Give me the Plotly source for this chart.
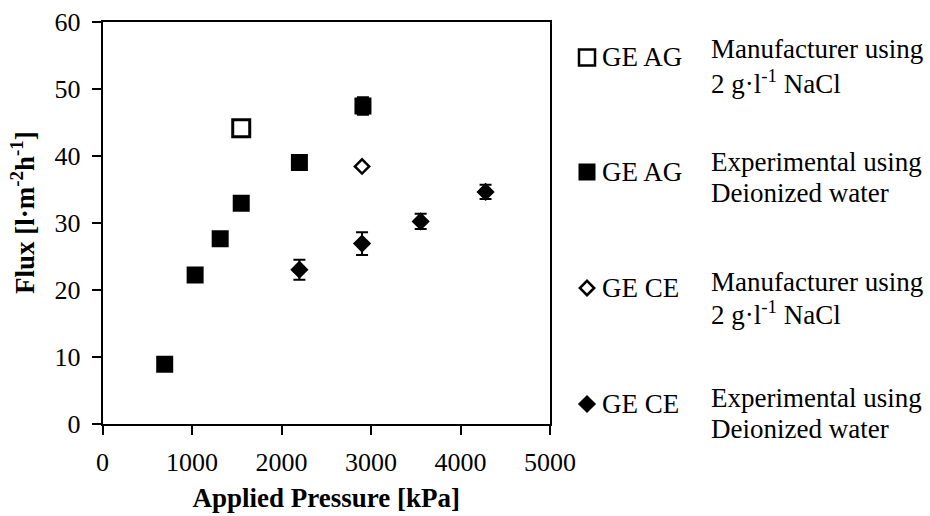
import plotly.graph_objects as go

# ---- data ----
ag_man_x = [1550]
ag_man_y = [44.1]

ag_exp_x = [695, 1035, 1315, 1550, 2200, 2910]
ag_exp_y = [8.9, 22.2, 27.6, 32.9, 39.0, 47.4]
ag_exp_err = [0, 0, 0, 0, 0, 1.3]

ce_man_x = [2900]
ce_man_y = [38.4]

ce_exp_x = [2200, 2900, 3555, 4280]
ce_exp_y = [23.0, 26.9, 30.2, 34.6]
ce_exp_err = [1.5, 1.7, 1.15, 1.05]

x_ticks = [0, 1000, 2000, 3000, 4000, 5000]
y_ticks = [0, 10, 20, 30, 40, 50, 60]

x_title = "Applied Pressure [kPa]"
y_title = "Flux [l·m<sup>-2</sup>h<sup>-1</sup>]"

legend_names = ["GE AG", "GE AG", "GE CE", "GE CE"]
legend_desc = [
    ["Manufacturer using", "2 g·l<sup>-1</sup> NaCl"],
    ["Experimental using", "Deionized water"],
    ["Manufacturer using", "2 g·l<sup>-1</sup> NaCl"],
    ["Experimental using", "Deionized water"],
]

# ---- layout constants (pixels) ----
W, H = 930, 516
PX0, PX1 = 102.5, 550
PY_TOP, PY_BOT = 21.5, 424
FONT = "Liberation Serif"
BLACK = "#000000"

fig = go.Figure()

fig.add_trace(go.Scatter(
    x=ag_exp_x, y=ag_exp_y, mode="markers",
    marker=dict(symbol="square", size=17, color=BLACK),
    error_y=dict(type="data", array=ag_exp_err, visible=True, color=BLACK,
                 thickness=2, width=6),
    showlegend=False))
fig.add_trace(go.Scatter(
    x=ag_man_x, y=ag_man_y, mode="markers",
    marker=dict(symbol="square", size=17, color="white",
                line=dict(color=BLACK, width=3)),
    showlegend=False))
fig.add_trace(go.Scatter(
    x=ce_man_x, y=ce_man_y, mode="markers",
    marker=dict(symbol="diamond", size=11, color="white",
                line=dict(color=BLACK, width=2.5)),
    showlegend=False))
fig.add_trace(go.Scatter(
    x=ce_exp_x, y=ce_exp_y, mode="markers",
    marker=dict(symbol="diamond", size=14, color=BLACK),
    error_y=dict(type="data", array=ce_exp_err, visible=True, color=BLACK,
                 thickness=2, width=6),
    showlegend=False))

# ---- custom legend on a hidden pixel-space axis ----
leg_marker_x = 587
leg_row_y = [57.5, 172, 288, 404]
leg_desc_y = [[49, 82], [162, 193], [282, 313], [398, 429]]
leg_styles = [
    dict(symbol="square", size=16, color="white", line=dict(color=BLACK, width=2.5)),
    dict(symbol="square", size=17, color=BLACK),
    dict(symbol="diamond", size=11, color="white", line=dict(color=BLACK, width=2.5)),
    dict(symbol="diamond", size=14, color=BLACK),
]
for ry, st in zip(leg_row_y, leg_styles):
    fig.add_trace(go.Scatter(x=[leg_marker_x], y=[ry], mode="markers",
                             marker=st, xaxis="x2", yaxis="y2",
                             showlegend=False, hoverinfo="skip"))

annotations = []
for name, ry, desc, dys in zip(legend_names, leg_row_y, legend_desc, leg_desc_y):
    annotations.append(dict(text=name, x=600 / W, y=1 - ry / H, xref="paper",
                            yref="paper", xanchor="left", yanchor="middle",
                            showarrow=False, font=dict(family=FONT, size=27, color=BLACK)))
    for line, dy in zip(desc, dys):
        annotations.append(dict(text=line, x=709 / W, y=1 - dy / H, xref="paper",
                                yref="paper", xanchor="left", yanchor="middle",
                                showarrow=False, font=dict(family=FONT, size=27, color=BLACK)))

# y-axis title as rotated annotation (placed like the reference)
annotations.append(dict(text="<b>" + y_title + "</b>", x=23 / W, y=1 - 213 / H,
                        xref="paper", yref="paper", xanchor="center", yanchor="middle",
                        textangle=-90, showarrow=False,
                        font=dict(family=FONT, size=27, color=BLACK)))

axis_common = dict(showline=True, linecolor=BLACK, linewidth=1.5, mirror=True,
                   ticks="outside", ticklen=9, tickwidth=1.5, tickcolor=BLACK,
                   showgrid=False, zeroline=False, automargin=False,
                   tickfont=dict(family=FONT, size=26, color=BLACK))

fig.update_layout(
    width=W, height=H, autosize=False,
    margin=dict(l=0, r=0, t=0, b=0, pad=0, autoexpand=False),
    paper_bgcolor="white", plot_bgcolor="rgba(0,0,0,0)",
    xaxis=dict(domain=[PX0 / W, PX1 / W], range=[0, 5000], tickvals=x_ticks,
               ticklabelstandoff=5,
               title=dict(text=x_title, standoff=12,
                          font=dict(family=FONT, size=27, color=BLACK, weight="bold")),
               **axis_common),
    yaxis=dict(domain=[1 - PY_BOT / H, 1 - PY_TOP / H], range=[0, 60], tickvals=y_ticks,
               ticklabelstandoff=6,
               **axis_common),
    xaxis2=dict(domain=[0, 1], range=[0, W], visible=False, anchor="y2",
                fixedrange=True, automargin=False),
    yaxis2=dict(domain=[0, 1], range=[H, 0], visible=False, anchor="x2",
                fixedrange=True, automargin=False),
    annotations=annotations,
    showlegend=False,
)

fig.write_html("out.html")
